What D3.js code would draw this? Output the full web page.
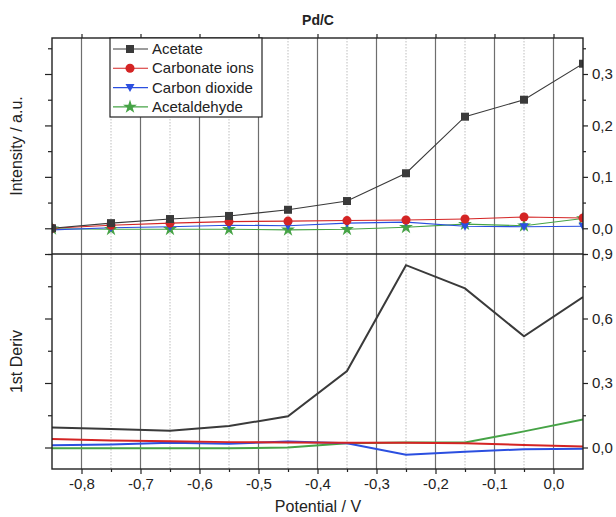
<!DOCTYPE html>
<html lang="en">
<head>
  <meta charset="utf-8">
  <title>Pd/C</title>
  <script type="text/javascript" src="https://d3js.org/d3.v7.min.js"></script>
  <style type="text/css">
    body { margin: 0; background: #fff; }
    text { font-family: "Liberation Sans", Arial, sans-serif; fill: #222; }
    .axis path { stroke: #222; }
    .axis line { stroke: #222; stroke-width: 1.2; }
    .gridMajor { stroke: #6e6e6e; stroke-width: 1.2; }
    .gridMinor { stroke: #bdbdbd; stroke-width: 1; stroke-dasharray: 1.5,1.5; }
  </style>
</head>
<body>
  <script type="text/javascript">
  // Data
  var potential = [-0.85, -0.75, -0.65, -0.55, -0.45, -0.35, -0.25, -0.15, -0.05, 0.05];
  var seriesNames = ["Acetate", "Carbonate ions", "Carbon dioxide", "Acetaldehyde"];
  var seriesColors = ["#3a3a3a", "#d42424", "#2b4fe0", "#46a346"];
  var markerTypes = ["square", "circle", "triangleDown", "star"];

  // Intensity / a.u.
  var acetateInt = [0.0, 0.01, 0.018, 0.024, 0.036, 0.053, 0.107, 0.217, 0.25, 0.32];
  var carbonateInt = [0.0, 0.006, 0.01, 0.013, 0.014, 0.015, 0.016, 0.018, 0.022, 0.02];
  var co2Int = [-0.003, 0.001, 0.003, 0.006, 0.005, 0.01, 0.012, 0.004, 0.003, 0.004];
  var acetaldehydeInt = [-0.001, -0.002, -0.002, -0.002, -0.003, -0.002, 0.002, 0.008, 0.005, 0.019];

  // 1st derivative
  var acetateDer = [0.093, 0.086, 0.078, 0.1, 0.145, 0.356, 0.848, 0.74, 0.517, 0.7];
  var carbonateDer = [0.04, 0.033, 0.029, 0.025, 0.023, 0.022, 0.022, 0.02, 0.012, 0.005];
  var co2Der = [0.01, 0.014, 0.022, 0.018, 0.028, 0.02, -0.034, -0.02, -0.008, -0.006];
  var acetaldehydeDer = [-0.003, -0.004, -0.004, -0.004, 0.0, 0.02, 0.023, 0.023, 0.075, 0.13];

  var xMajorTicks = [-0.8, -0.7, -0.6, -0.5, -0.4, -0.3, -0.2, -0.1, 0.0];
  var xMinorTicks = [-0.75, -0.65, -0.55, -0.45, -0.35, -0.25, -0.15, -0.05];
  var topMajorTicks = [0.0, 0.1, 0.2, 0.3];
  var topMinorTicks = [-0.05, 0.05, 0.15, 0.25, 0.35];
  var botMajorTicks = [0.0, 0.3, 0.6, 0.9];
  var botMinorTicks = [0.15, 0.45, 0.75];

  var intensity = [acetateInt, carbonateInt, co2Int, acetaldehydeInt];
  var derivative = [acetateDer, carbonateDer, co2Der, acetaldehydeDer];

  var w = 616, h = 517;
  var left = 52, right = 583;
  var topY0 = 38, sepY = 254, botY1 = 469;

  var fmt = function(d) {
    return d3.format(".1f")(d).replace(".", ",").replace("\u2212", "-").replace("-0,0", "0,0");
  };

  var svg = d3.select("body").append("svg")
    .attr("width", w).attr("height", h);

  var xScale = d3.scaleLinear().domain([-0.85, 0.05]).range([left, right]);
  var yTop = d3.scaleLinear().domain([-0.05, 0.37]).range([sepY, topY0]);
  var yBot = d3.scaleLinear().domain([-0.1, 0.9]).range([botY1, sepY]);

  var defs = svg.append("defs");
  defs.append("clipPath").attr("id", "clipTop").append("rect")
    .attr("x", left).attr("y", topY0).attr("width", right - left).attr("height", sepY - topY0);
  defs.append("clipPath").attr("id", "clipBot").append("rect")
    .attr("x", left).attr("y", sepY).attr("width", right - left).attr("height", botY1 - sepY);

  // vertical grid lines across both panels
  svg.selectAll(".gridMinor").data(xMinorTicks).enter().append("line")
    .attr("class", "gridMinor")
    .attr("x1", function(d) { return xScale(d); }).attr("x2", function(d) { return xScale(d); })
    .attr("y1", topY0).attr("y2", botY1);
  svg.selectAll(".gridMajor").data(xMajorTicks).enter().append("line")
    .attr("class", "gridMajor")
    .attr("x1", function(d) { return xScale(d); }).attr("x2", function(d) { return xScale(d); })
    .attr("y1", topY0).attr("y2", botY1);

  var markerPath = function(type) {
    if (type == "square") return d3.symbol().type(d3.symbolSquare).size(64)();
    if (type == "circle") return d3.symbol().type(d3.symbolCircle).size(64)();
    if (type == "star") return d3.symbol().type(d3.symbolStar).size(60)();
    return "M-4.5,-3.5L4.5,-3.5L0,4.5Z";
  };

  // top panel
  var gTop = svg.append("g").attr("clip-path", "url(#clipTop)");
  var lineTop = d3.line()
    .x(function(d, i) { return xScale(potential[i]); })
    .y(function(d) { return yTop(d); });

  for (var s = intensity.length - 1; s >= 0; s--) {
    gTop.append("path")
      .datum(intensity[s])
      .attr("fill", "none")
      .attr("stroke", seriesColors[s])
      .attr("stroke-width", 1.1)
      .attr("d", lineTop);
  }
  for (var s = intensity.length - 1; s >= 0; s--) {
    gTop.selectAll(".m" + s).data(intensity[s]).enter().append("path")
      .attr("class", "m" + s)
      .attr("d", markerPath(markerTypes[s]))
      .attr("fill", seriesColors[s])
      .attr("transform", function(d, i) {
        return "translate(" + xScale(potential[i]) + "," + yTop(d) + ")";
      });
  }

  // bottom panel
  var gBot = svg.append("g").attr("clip-path", "url(#clipBot)");
  var lineBot = d3.line()
    .x(function(d, i) { return xScale(potential[i]); })
    .y(function(d) { return yBot(d); });

  for (var s = derivative.length - 1; s >= 0; s--) {
    gBot.append("path")
      .datum(derivative[s])
      .attr("fill", "none")
      .attr("stroke", seriesColors[s])
      .attr("stroke-width", 2)
      .attr("d", lineBot);
  }

  // axes
  svg.append("g").attr("class", "axis")
    .attr("transform", "translate(0," + botY1 + ")")
    .call(d3.axisBottom(xScale).tickValues(xMajorTicks).tickSize(5).tickPadding(4).tickFormat(fmt))
    .call(function(g) { g.select(".domain").remove(); })
    .selectAll("text").style("font-size", "15px");
  svg.append("g").attr("class", "axis")
    .attr("transform", "translate(0," + botY1 + ")")
    .call(d3.axisBottom(xScale).tickValues(xMinorTicks).tickSize(3).tickFormat(""))
    .call(function(g) { g.select(".domain").remove(); });
  svg.append("g").attr("class", "axis")
    .attr("transform", "translate(0," + topY0 + ")")
    .call(d3.axisTop(xScale).tickValues(xMajorTicks).tickSize(4).tickFormat(""))
    .call(function(g) { g.select(".domain").remove(); });

  var yAxes = function(scale, major, minor) {
    svg.append("g").attr("class", "axis")
      .attr("transform", "translate(" + right + ",0)")
      .call(d3.axisRight(scale).tickValues(major).tickSize(5).tickPadding(4).tickFormat(fmt))
      .call(function(g) { g.select(".domain").remove(); })
      .selectAll("text").style("font-size", "15px");
    svg.append("g").attr("class", "axis")
      .attr("transform", "translate(" + right + ",0)")
      .call(d3.axisRight(scale).tickValues(minor).tickSize(3).tickFormat(""))
      .call(function(g) { g.select(".domain").remove(); });
    svg.append("g").attr("class", "axis")
      .attr("transform", "translate(" + left + ",0)")
      .call(d3.axisLeft(scale).tickValues(major).tickSize(7).tickFormat(""))
      .call(function(g) { g.select(".domain").remove(); });
    svg.append("g").attr("class", "axis")
      .attr("transform", "translate(" + left + ",0)")
      .call(d3.axisLeft(scale).tickValues(minor).tickSize(4).tickFormat(""))
      .call(function(g) { g.select(".domain").remove(); });
  };
  yAxes(yTop, topMajorTicks, topMinorTicks);
  yAxes(yBot, botMajorTicks, botMinorTicks);

  // frames
  svg.append("rect")
    .attr("x", left).attr("y", topY0).attr("width", right - left).attr("height", botY1 - topY0)
    .attr("fill", "none").attr("stroke", "#222").attr("stroke-width", 1.4);
  svg.append("line")
    .attr("x1", left).attr("x2", right).attr("y1", sepY).attr("y2", sepY)
    .attr("stroke", "#222").attr("stroke-width", 1.4);

  // legend
  var legend = svg.append("g").attr("transform", "translate(110," + topY0 + ")");
  legend.append("rect")
    .attr("width", 152).attr("height", 79)
    .attr("fill", "#fff").attr("stroke", "#222").attr("stroke-width", 1.2);
  seriesNames.forEach(function(name, i) {
    var yy = 11 + i * 19.3;
    legend.append("line")
      .attr("x1", 3).attr("x2", 38).attr("y1", yy).attr("y2", yy)
      .attr("stroke", seriesColors[i]).attr("stroke-width", 1.1);
    legend.append("path")
      .attr("d", markerPath(markerTypes[i]))
      .attr("fill", seriesColors[i])
      .attr("transform", "translate(20," + yy + ")");
    legend.append("text")
      .attr("x", 42).attr("y", yy + 5)
      .style("font-size", "15px")
      .text(name);
  });

  // titles
  svg.append("text")
    .attr("x", 318).attr("y", 25)
    .attr("text-anchor", "middle")
    .style("font-size", "14px").style("font-weight", "bold")
    .text("Pd/C");
  svg.append("text")
    .attr("x", 318).attr("y", 512)
    .attr("text-anchor", "middle")
    .style("font-size", "16px")
    .text("Potential / V");
  svg.append("text")
    .attr("transform", "translate(22," + ((topY0 + sepY) / 2) + ") rotate(-90)")
    .attr("text-anchor", "middle")
    .style("font-size", "16px")
    .text("Intensity / a.u.");
  svg.append("text")
    .attr("transform", "translate(22," + ((sepY + botY1) / 2) + ") rotate(-90)")
    .attr("text-anchor", "middle")
    .style("font-size", "16px")
    .text("1st Deriv");
  </script>
</body>
</html>
